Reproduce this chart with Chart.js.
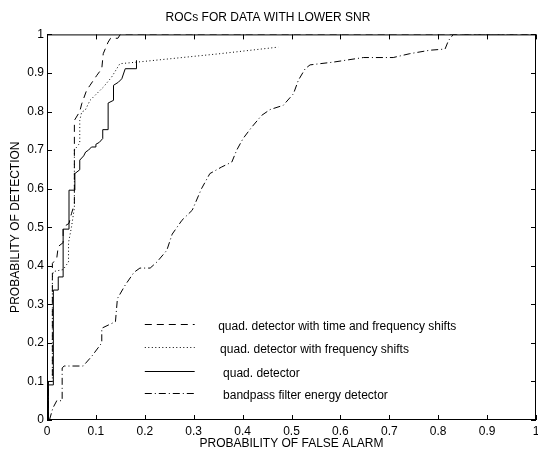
<!DOCTYPE html>
<html>
<head>
<meta charset="utf-8">
<script src="https://cdn.jsdelivr.net/npm/chart.js@4"></script>
<style>
    html, body { margin: 0; padding: 0; background: #fff; }
    #wrap { width: 538px; height: 451px; }
</style>
</head>
<body>
<div id="wrap"><canvas id="roc"></canvas></div>
<script>
// series: probability of false alarm (x) / probability of detection (y)
const tfX = [0.003, 0.003, 0.011, 0.011, 0.02, 0.023, 0.033, 0.033, 0.045, 0.05, 0.056, 0.056, 0.067, 0.071, 0.081, 0.088, 0.095, 0.102, 0.112, 0.115, 0.125, 0.13, 0.145, 0.15, 1.0];
const tfY = [0, 0.1, 0.1, 0.406, 0.42, 0.45, 0.46, 0.5, 0.51, 0.535, 0.56, 0.777, 0.8, 0.82, 0.855, 0.868, 0.881, 0.894, 0.911, 0.95, 0.98, 0.99, 0.99, 1.0, 1.0];

const fX = [0.003, 0.003, 0.011, 0.011, 0.013, 0.033, 0.044, 0.044, 0.05, 0.056, 0.056, 0.067, 0.067, 0.071, 0.078, 0.088, 0.115, 0.132, 0.149, 0.183, 0.354, 0.473];
const fY = [0, 0.1, 0.1, 0.37, 0.385, 0.39, 0.41, 0.46, 0.5, 0.55, 0.7, 0.718, 0.777, 0.799, 0.803, 0.829, 0.863, 0.889, 0.924, 0.928, 0.95, 0.967];

const qX = [0.003, 0.003, 0.013, 0.013, 0.023, 0.023, 0.033, 0.033, 0.045, 0.045, 0.056, 0.057, 0.067, 0.067, 0.075, 0.079, 0.085, 0.091, 0.1, 0.1, 0.107, 0.114, 0.114, 0.125, 0.125, 0.136, 0.136, 0.146, 0.153, 0.16, 0.183, 0.183];
const qY = [0, 0.091, 0.091, 0.337, 0.337, 0.371, 0.371, 0.495, 0.495, 0.596, 0.596, 0.639, 0.649, 0.674, 0.685, 0.695, 0.7, 0.708, 0.708, 0.715, 0.72, 0.73, 0.753, 0.753, 0.822, 0.829, 0.868, 0.876, 0.885, 0.911, 0.911, 0.933];

const bX = [0.005, 0.012, 0.02, 0.031, 0.031, 0.035, 0.074, 0.092, 0.112, 0.112, 0.125, 0.14, 0.144, 0.16, 0.178, 0.19, 0.211, 0.225, 0.245, 0.256, 0.276, 0.297, 0.316, 0.333, 0.357, 0.378, 0.388, 0.401, 0.419, 0.439, 0.456, 0.483, 0.504, 0.514, 0.528, 0.538, 0.585, 0.647, 0.708, 0.742, 0.783, 0.814, 0.821, 0.831, 1.0];
const bY = [0, 0.031, 0.05, 0.05, 0.135, 0.14, 0.14, 0.166, 0.2, 0.238, 0.246, 0.255, 0.315, 0.35, 0.383, 0.394, 0.394, 0.41, 0.44, 0.482, 0.518, 0.544, 0.6, 0.639, 0.656, 0.669, 0.7, 0.73, 0.76, 0.79, 0.805, 0.816, 0.846, 0.881, 0.911, 0.921, 0.928, 0.94, 0.94, 0.95, 0.959, 0.962, 0.984, 1.0, 1.0];

const seriesNames = [
    'quad. detector with time and frequency shifts',
    'quad. detector with frequency shifts',
    'quad. detector',
    'bandpass filter energy detector'
];

const xTickLabels = ['0', '0.1', '0.2', '0.3', '0.4', '0.5', '0.6', '0.7', '0.8', '0.9', '1'];
const yTickLabels = ['0', '0.1', '0.2', '0.3', '0.4', '0.5', '0.6', '0.7', '0.8', '0.9', '1'];
const tickValues  = [0, 0.1, 0.2, 0.3, 0.4, 0.5, 0.6, 0.7, 0.8, 0.9, 1];


const FONT   = 'Liberation Sans, Arial, Helvetica, sans-serif';
const dashes = [[7, 5], [1, 2.5], [], [7, 3, 1, 3]];

function toPoints(xs, ys) {
    return xs.map((x, i) => ({ x, y: ys[i] }));
}

const seriesData = [toPoints(tfX, tfY), toPoints(fX, fY), toPoints(qX, qY), toPoints(bX, bY)];

const datasets = seriesData.map((pts, i) => ({
    label: seriesNames[i],
    data: pts,
    showLine: true,
    borderColor: '#000',
    borderWidth: 1,
    borderDash: dashes[i],
    pointRadius: 0,
    fill: false,
    tension: 0
}));

// frame with inward ticks on all four sides (matlab style box)
const framePlugin = {
    id: 'frame',
    afterDatasetsDraw(chart) {
        const { ctx, chartArea: a, scales: { x, y } } = chart;
        const tl = 5;
        ctx.save();
        ctx.strokeStyle = '#000';
        ctx.lineWidth = 1;
        ctx.setLineDash([]);
        ctx.strokeRect(a.left + 0.5, a.top + 0.5, a.right - a.left - 1, a.bottom - a.top - 1);
        ctx.beginPath();
        tickValues.forEach(v => {
            const px = Math.round(x.getPixelForValue(v)) + 0.5;
            ctx.moveTo(px, a.bottom); ctx.lineTo(px, a.bottom - tl);
            ctx.moveTo(px, a.top);    ctx.lineTo(px, a.top + tl);
            const py = Math.round(y.getPixelForValue(v)) + 0.5;
            ctx.moveTo(a.left, py);  ctx.lineTo(a.left + tl, py);
            ctx.moveTo(a.right, py); ctx.lineTo(a.right - tl, py);
        });
        ctx.stroke();
        ctx.restore();
    }
};

// legend drawn inside the axes, no box
const legendRows  = [0.249, 0.19, 0.128, 0.069];
const legendTextX = [0.35, 0.354, 0.36, 0.36];
const legendPlugin = {
    id: 'insideLegend',
    afterDatasetsDraw(chart) {
        const { ctx, scales: { x, y } } = chart;
        ctx.save();
        ctx.strokeStyle = '#000';
        ctx.fillStyle = '#000';
        ctx.lineWidth = 1;
        ctx.font = '12px ' + FONT;
        ctx.textBaseline = 'middle';
        ctx.textAlign = 'left';
        seriesNames.forEach((name, i) => {
            const py = Math.round(y.getPixelForValue(legendRows[i])) + 0.5;
            ctx.setLineDash(dashes[i]);
            ctx.beginPath();
            ctx.moveTo(x.getPixelForValue(0.2), py);
            ctx.lineTo(x.getPixelForValue(0.302), py);
            ctx.stroke();
            ctx.fillText(name, x.getPixelForValue(legendTextX[i]), py + 2);
        });
        ctx.restore();
    }
};

new Chart(document.getElementById('roc'), {
    type: 'scatter',
    data: { datasets },
    plugins: [framePlugin, legendPlugin],
    options: {
        responsive: true,
        maintainAspectRatio: false,
        animation: false,
        layout: { padding: { left: 0, right: 2, top: 0, bottom: 0 } },
        plugins: {
            legend: { display: false },
            tooltip: { enabled: false },
            title: {
                display: true,
                text: 'ROCs FOR DATA WITH LOWER SNR',
                color: '#000',
                font: { family: FONT, size: 12, weight: 'normal' },
                padding: { top: 10, bottom: 10 }
            }
        },
        scales: {
            x: {
                type: 'linear',
                min: 0, max: 1,
                afterFit(s) { s.height = 31; s.paddingLeft = 0; s.paddingRight = 0; },
                grid: { display: false, drawTicks: false },
                border: { display: false },
                ticks: {
                    stepSize: 0.1, autoSkip: false, maxRotation: 0, padding: 4,
                    color: '#000', font: { family: FONT, size: 12 },
                    callback: (v, i) => xTickLabels[i]
                },
                title: {
                    display: true, text: 'PROBABILITY OF FALSE ALARM', color: '#000',
                    font: { family: FONT, size: 12 }, padding: { top: 0, bottom: 0 }
                }
            },
            y: {
                type: 'linear',
                min: 0, max: 1,
                afterFit(s) { s.width = 47; },
                grid: { display: false, drawTicks: false },
                border: { display: false },
                ticks: {
                    stepSize: 0.1, autoSkip: false, padding: 3,
                    color: '#000', font: { family: FONT, size: 12 },
                    callback: (v, i) => yTickLabels[i]
                },
                title: {
                    display: true, text: 'PROBABILITY OF DETECTION', color: '#000',
                    font: { family: FONT, size: 12 }, padding: { top: 8, bottom: 0 }
                }
            }
        }
    }
});
</script>
</body>
</html>
